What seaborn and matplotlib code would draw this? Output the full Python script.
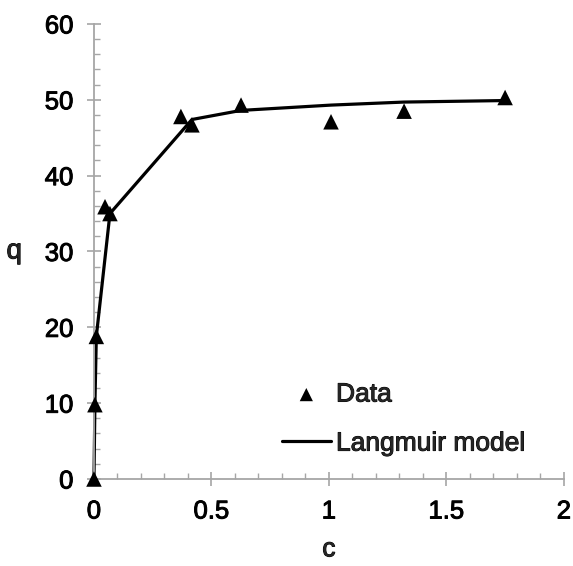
import matplotlib
matplotlib.use("Agg")
import matplotlib.pyplot as plt
import matplotlib.patheffects as pe
from matplotlib.ticker import MultipleLocator
import seaborn as sns
import pandas as pd

# measured points
c_data = [0.0, 0.004, 0.01, 0.047, 0.068, 0.37, 0.417, 0.626, 1.009, 1.32, 1.75]
q_data = [0.0, 9.8, 18.8, 35.9, 35.0, 47.8, 46.7, 49.3, 47.1, 48.5, 50.3]

# model curve
c_model = [0.0, 0.004, 0.01, 0.068, 0.417, 0.626, 1.009, 1.32, 1.75]
q_model = [0.0, 9.8, 18.8, 35.0, 47.4, 48.6, 49.3, 49.7, 49.9]

df_data = pd.DataFrame({"c": c_data, "q": q_data})
df_model = pd.DataFrame({"c": c_model, "q": q_model})

sns.set_style("ticks")
plt.rcParams['font.family'] = ['Liberation Sans', 'DejaVu Sans']

grey = "#a6a6a6"
heavy = [pe.withStroke(linewidth=0.7, foreground="black")]

fig = plt.figure(figsize=(5.73, 5.66), dpi=100)
ax = fig.add_axes([0.164, 0.1537, 0.82, 0.804])

sns.scatterplot(data=df_data, x="c", y="q", marker="^", s=125, color="black",
                edgecolor="none", label="Data", ax=ax, clip_on=False, zorder=3)
sns.lineplot(data=df_model, x="c", y="q", color="black", linewidth=2.3,
             label="Langmuir model", ax=ax, clip_on=False, zorder=2)

ax.set_xlim(0, 2)
ax.set_ylim(0, 60)
ax.xaxis.set_major_locator(MultipleLocator(0.5))
ax.xaxis.set_minor_locator(MultipleLocator(0.1))
ax.yaxis.set_major_locator(MultipleLocator(10))
ax.yaxis.set_minor_locator(MultipleLocator(2))
ax.set_xticks([0, 0.5, 1, 1.5, 2], ["0", "0.5", "1", "1.5", "2"])

sns.despine(ax=ax)
for s in ["left", "bottom"]:
    ax.spines[s].set_color(grey)
    ax.spines[s].set_linewidth(1.3)

ax.tick_params(which="major", direction="inout", length=9.5, width=1.2,
               color=grey, labelsize=18.5, labelcolor="black", pad=10)
ax.tick_params(which="minor", direction="in", length=4.5, width=1.0, color=grey)

ax.set_xlabel("c", fontsize=19, labelpad=10)
ax.set_ylabel("q", fontsize=20, rotation=0, labelpad=22, va="center")

leg = ax.legend(loc="upper left", bbox_to_anchor=(0.40, 0.212), frameon=False,
                fontsize=19, handlelength=1.85, handletextpad=0.2, labelspacing=0.95,
                borderpad=0, borderaxespad=0, markerscale=0.85)

for t in ax.get_xticklabels() + ax.get_yticklabels() + leg.get_texts():
    t.set_path_effects(heavy)
ax.xaxis.label.set_path_effects(heavy)
ax.yaxis.label.set_path_effects(heavy)

fig.savefig("out.png", dpi=100)
